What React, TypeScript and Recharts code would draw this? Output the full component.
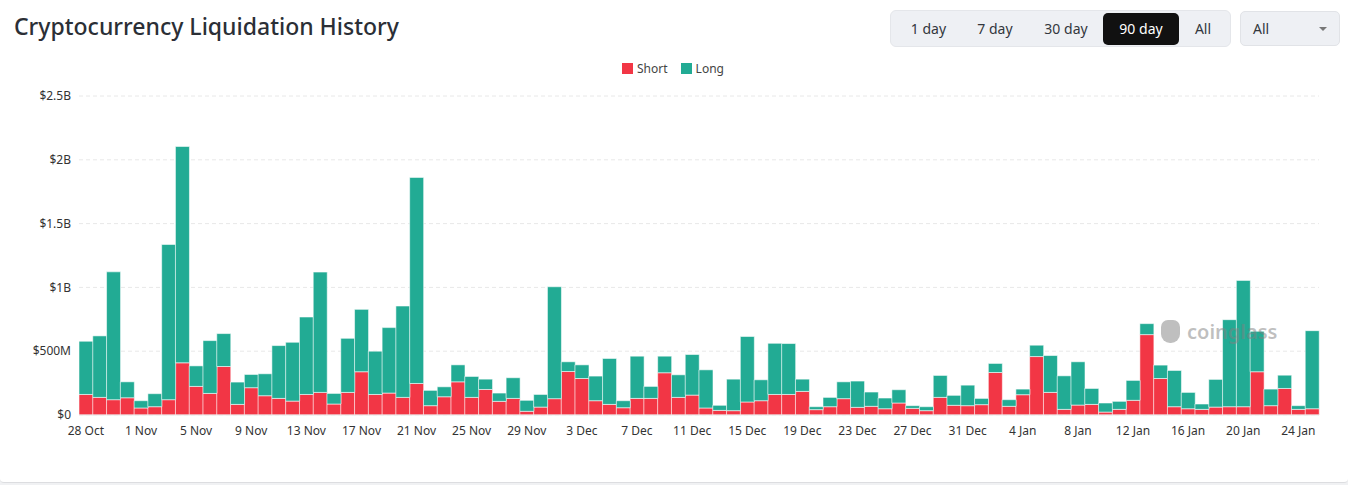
import React from "react";
import { BarChart, Bar, XAxis, YAxis, CartesianGrid, Legend } from "recharts";

const dates = [
  "28 Oct", "29 Oct", "30 Oct", "31 Oct",
  "1 Nov", "2 Nov", "3 Nov", "4 Nov", "5 Nov", "6 Nov", "7 Nov", "8 Nov", "9 Nov", "10 Nov",
  "11 Nov", "12 Nov", "13 Nov", "14 Nov", "15 Nov", "16 Nov", "17 Nov", "18 Nov", "19 Nov", "20 Nov",
  "21 Nov", "22 Nov", "23 Nov", "24 Nov", "25 Nov", "26 Nov", "27 Nov", "28 Nov", "29 Nov", "30 Nov",
  "1 Dec", "2 Dec", "3 Dec", "4 Dec", "5 Dec", "6 Dec", "7 Dec", "8 Dec", "9 Dec", "10 Dec",
  "11 Dec", "12 Dec", "13 Dec", "14 Dec", "15 Dec", "16 Dec", "17 Dec", "18 Dec", "19 Dec", "20 Dec",
  "21 Dec", "22 Dec", "23 Dec", "24 Dec", "25 Dec", "26 Dec", "27 Dec", "28 Dec", "29 Dec", "30 Dec",
  "31 Dec",
  "1 Jan", "2 Jan", "3 Jan", "4 Jan", "5 Jan", "6 Jan", "7 Jan", "8 Jan", "9 Jan", "10 Jan",
  "11 Jan", "12 Jan", "13 Jan", "14 Jan", "15 Jan", "16 Jan", "17 Jan", "18 Jan", "19 Jan", "20 Jan",
  "21 Jan", "22 Jan", "23 Jan", "24 Jan", "25 Jan",
];

// totals (short + long), in $M
const totals = [
  578, 620, 1122, 260,
  112, 167, 1336, 2104, 385, 583, 638, 258, 318, 323,
  544, 570, 768, 1120, 169, 601, 828, 500, 685, 854,
  1862, 193, 221, 393, 302, 281, 172, 292, 115, 161,
  1005, 417, 393, 305, 443, 112, 461, 224, 461, 315,
  474, 354, 76, 281, 615, 276, 562, 560, 281, 65,
  138, 260, 266, 180, 133, 198, 73, 65, 310, 154,
  234,
  130, 404, 120, 203, 547, 466, 307, 417, 208, 94,
  107, 271, 716, 391, 349, 177, 86, 279, 747, 1055,
  656, 203, 312, 73, 661,
];

// short liquidations, in $M
const shorts = [
  161, 138, 120, 135,
  55, 65, 120, 409, 224, 169, 380, 83, 214, 151,
  130, 109, 161, 177, 86, 177, 339, 161, 172, 138,
  247, 73, 143, 260, 138, 200, 107, 130, 29, 62,
  128, 341, 286, 112, 83, 57, 130, 130, 331, 138,
  156, 55, 36, 34, 102, 112, 161, 161, 185, 42,
  65, 128, 60, 68, 49, 94, 52, 34, 138, 76,
  73,
  81, 333, 68, 159, 458, 177, 44, 78, 83, 23,
  44, 115, 630, 286, 65, 49, 44, 62, 65, 65,
  339, 73, 208, 44, 49,
];

const yTicks = [0, 500e6, 1000e6, 1500e6, 2000e6, 2500e6];
const legendOrder = ["Short", "Long"];

const data = dates.map((d, i) => ({
  date: d,
  short: shorts[i] * 1e6,
  long: (totals[i] - shorts[i]) * 1e6,
}));

const fmtY = (v: number) => {
  if (v === 0) return "$0";
  if (v >= 1e9) return `$${v / 1e9}B`;
  return `$${v / 1e6}M`;
};

const FONT = "'Noto Sans', 'Open Sans', sans-serif";
const buttons = ["1 day", "7 day", "30 day", "90 day", "All"];

export default function App() {
  return (
    <div
      style={{
        position: "absolute",
        left: 0,
        top: 0,
        width: 1348,
        height: 485,
        background: "#f0f1f3",
        fontFamily: FONT,
      }}
    >
      <div
        style={{
          position: "absolute",
          left: 0,
          top: 0,
          width: 1348,
          height: 482,
          background: "#fff",
          borderBottom: "1px solid #dcdde0",
          borderRadius: "0 0 4px 4px",
        }}
      />
      <div
        style={{
          position: "absolute",
          left: 14,
          top: 10,
          fontSize: 23,
          fontWeight: 500,
          color: "#2b2f36",
        }}
      >
        Cryptocurrency Liquidation History
      </div>
      <div
        style={{
          position: "absolute",
          left: 890,
          top: 10,
          width: 341,
          height: 37,
          background: "#eef0f4",
          borderRadius: 6,
          border: "1px solid #e4e6ea",
          boxSizing: "border-box",
        }}
      >
        {buttons.map((b, i) => {
          const lefts = [10, 75, 143, 212, 293];
          const widths = [55, 58, 64, 76, 38];
          const active = b === "90 day";
          return (
            <div
              key={b}
              style={{
                position: "absolute",
                left: lefts[i],
                top: 2,
                width: widths[i],
                height: 32,
                lineHeight: "32px",
                textAlign: "center",
                fontSize: 14,
                borderRadius: 5,
                background: active ? "#111" : "transparent",
                color: active ? "#fff" : "#33373d",
              }}
            >
              {b}
            </div>
          );
        })}
      </div>
      <div
        style={{
          position: "absolute",
          left: 1240,
          top: 11,
          width: 100,
          height: 35,
          background: "#eef0f4",
          borderRadius: 5,
          border: "1px solid #e1e3e7",
          boxSizing: "border-box",
          fontSize: 14,
          color: "#33373d",
          lineHeight: "33px",
          paddingLeft: 12,
        }}
      >
        All
        <span
          style={{
            position: "absolute",
            right: 12,
            top: 15,
            width: 0,
            height: 0,
            borderLeft: "4px solid transparent",
            borderRight: "4px solid transparent",
            borderTop: "4px solid #777",
          }}
        />
      </div>
      <div style={{ position: "absolute", left: 0, top: 58 }}>
        <BarChart
          width={1348}
          height={382}
          data={data}
          margin={{ top: 16, right: 29, left: 0, bottom: 1 }}
          barCategoryGap={0}
        >
          <CartesianGrid vertical={false} stroke="#e8e8e8" strokeDasharray="4 3" />
          <XAxis
            dataKey="date"
            interval={3}
            tickLine={false}
            axisLine={{ stroke: "#e8e8e8" }}
            tick={{ fontSize: 12, fill: "#333", fontFamily: FONT }}
            height={24}
            tickMargin={5}
          />
          <YAxis
            width={79}
            domain={[0, 2500e6]}
            ticks={yTicks}
            tickFormatter={fmtY}
            axisLine={false}
            tickLine={false}
            tickSize={0}
            tickMargin={8}
            tick={{ fontSize: 12, fill: "#333", fontFamily: FONT }}
          />
          <Legend
            verticalAlign="top"
            align="center"
            iconType="square"
            iconSize={11}
            itemSorter={(item: any) => legendOrder.indexOf(item.value)}
            formatter={(v: string) => (
              <span style={{ color: "#444", fontSize: 12, fontFamily: FONT, marginRight: 3 }}>{v}</span>
            )}
            wrapperStyle={{ top: -2, left: 20, width: 1319 }}
          />
          <Bar
            dataKey="short"
            name="Short"
            stackId="a"
            fill="#f23645"
            stroke="rgba(255,255,255,0.55)"
            strokeWidth={1}
            isAnimationActive={false}
          />
          <Bar
            dataKey="long"
            name="Long"
            stackId="a"
            fill="#22ab94"
            stroke="rgba(255,255,255,0.55)"
            strokeWidth={1}
            isAnimationActive={false}
          />
        </BarChart>
      </div>
      <div
        style={{
          position: "absolute",
          left: 1161,
          top: 318,
          fontSize: 20,
          fontWeight: 600,
          color: "rgba(128,128,128,0.5)",
          display: "flex",
          alignItems: "center",
          gap: 7,
          pointerEvents: "none",
        }}
      >
        <span
          style={{
            display: "inline-block",
            width: 19,
            height: 23,
            background: "rgba(128,128,128,0.5)",
            borderRadius: "7px 7px 9px 9px",
          }}
        />
        coinglass
      </div>
    </div>
  );
}
